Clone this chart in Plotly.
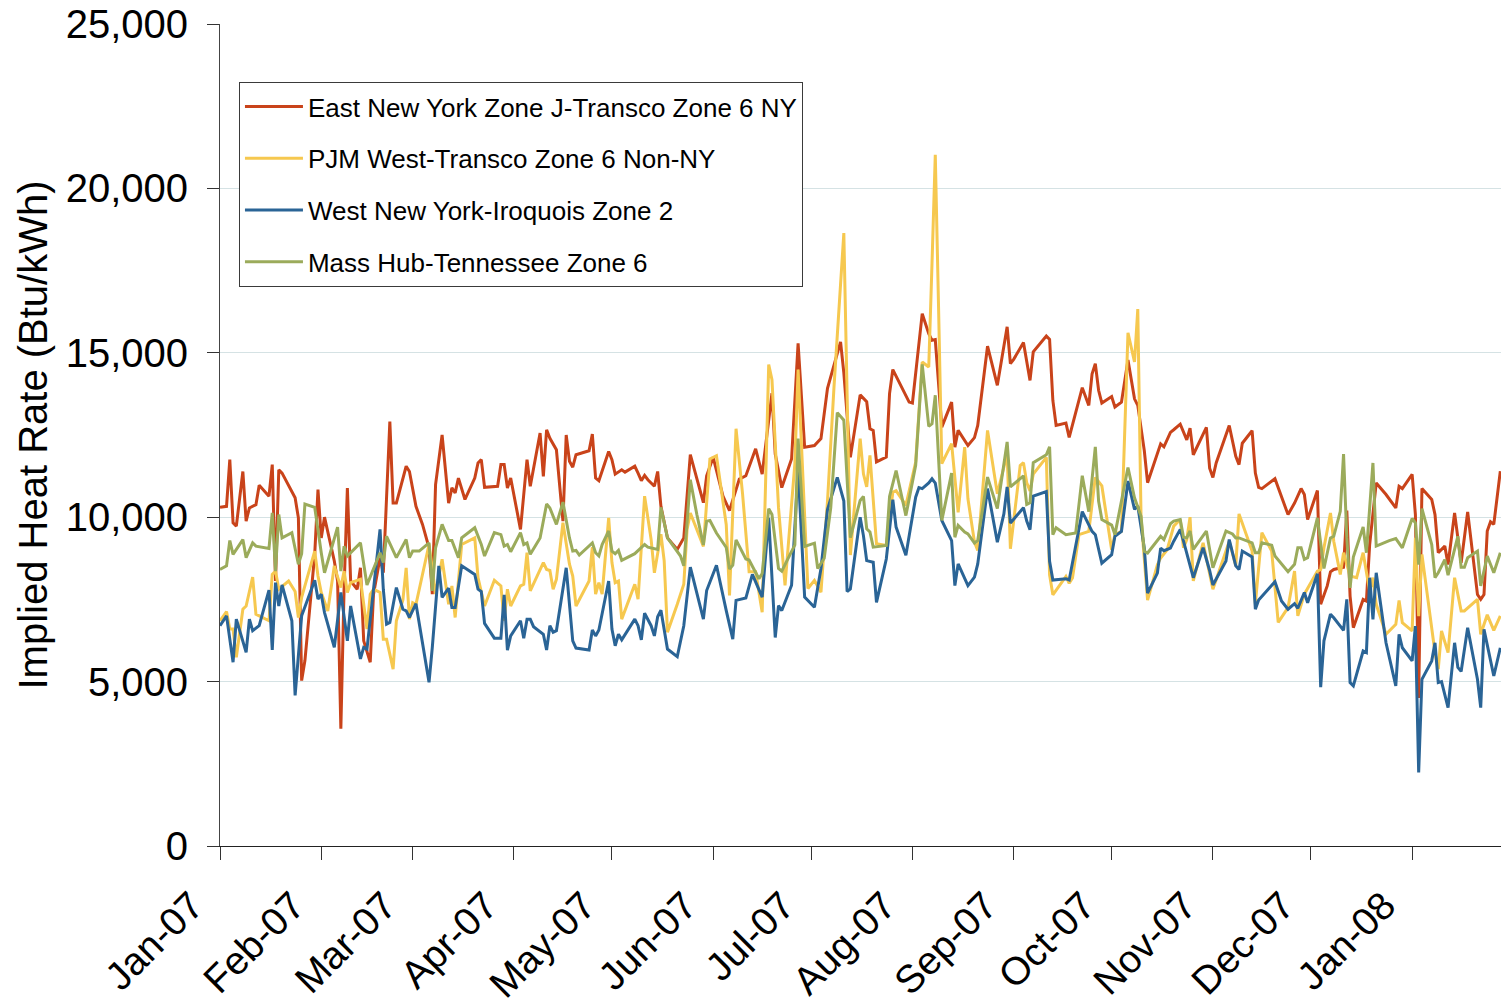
import pandas as pd
import plotly.graph_objects as go

START = "2007-01-01"
X_END = "2008-01-28 05:00"

month_ticks = ["2007-01-01", "2007-02-01", "2007-03-01", "2007-04-01", "2007-05-01",
               "2007-06-01", "2007-07-01", "2007-08-01", "2007-09-01", "2007-10-01",
               "2007-11-01", "2007-12-01", "2008-01-01"]
month_labels = ["Jan-07", "Feb-07", "Mar-07", "Apr-07", "May-07", "Jun-07", "Jul-07",
                "Aug-07", "Sep-07", "Oct-07", "Nov-07", "Dec-07", "Jan-08"]
y_ticks = [0, 5000, 10000, 15000, 20000, 25000]

series_names = ["East New York Zone J-Transco Zone 6 NY",
                "PJM West-Transco Zone 6 Non-NY",
                "West New York-Iroquois Zone 2",
                "Mass Hub-Tennessee Zone 6"]
series_colors = ["#C9431A", "#F6C84F", "#2A6496", "#9BAB5B"]

# day offsets from 1 Jan 2007 and implied heat rates (Btu/kWh)
east_ny_day = [0, 2, 3, 4, 5, 7, 8, 9, 11, 12,
               15, 16, 17, 18, 19, 23, 24, 25, 26, 28,
               29, 30, 31, 32, 35, 36, 37, 38, 39, 40,
               42, 43, 44, 46, 47, 49, 50, 52, 53, 54,
               57, 58, 60, 62, 64, 65, 66, 68, 70, 71,
               72, 73, 75, 78, 79, 80, 81, 85, 86, 87,
               88, 89, 92, 94, 95, 98, 99, 100, 101, 103,
               105, 106, 107, 108, 109, 113, 114, 115, 116, 119,
               120, 121, 123, 124, 127, 128, 129, 130, 131, 133,
               134, 135, 137, 140, 142, 144, 148, 149, 151, 154,
               156, 159, 161, 164, 166, 169, 170, 172, 175, 177,
               179, 182, 184, 186, 190, 191, 193, 196, 198, 199,
               200, 201, 204, 205, 206, 211, 212, 215, 217, 218,
               219, 221, 224, 225, 226, 229, 231, 232, 235, 238,
               241, 242, 243, 246, 248, 249, 253, 254, 255, 256,
               259, 260, 264, 266, 267, 268, 269, 270, 273, 274,
               276, 278, 280, 281, 283, 284, 288, 289, 291, 292,
               294, 296, 297, 298, 302, 303, 304, 305, 309, 311,
               312, 313, 316, 317, 318, 319, 323, 327, 329, 331,
               332, 333, 336, 337, 339, 340, 341, 344, 345, 346,
               347, 350, 351, 352, 354, 357, 360, 361, 362, 365,
               366, 367, 368, 371, 372, 373, 375, 376, 378, 379,
               380, 382, 385, 386, 387, 388, 389, 390, 392]
east_ny_val = [10300, 10330, 11750, 9830, 9730, 11390, 9880, 10280, 10380, 10970,
               10640, 11600, 8060, 11440, 11340, 10590, 9980, 5030, 5640, 7660,
               8870, 10840, 9370, 10000, 8670, 8060, 3570, 7860, 10890, 8060,
               7810, 8460, 6240, 5590, 7660, 8770, 8310, 12910, 10430, 10430,
               11550, 11390, 10330, 9780, 9070, 7660, 10990, 12500, 10430, 10890,
               10740, 11190, 10540, 11190, 11650, 11750, 10910, 10940, 11600, 11600,
               10890, 11190, 9630, 11750, 10940, 12560, 11240, 12660, 12400, 12050,
               9880, 12500, 11700, 11520, 11900, 12020, 12530, 11190, 11110, 12000,
               11750, 11310, 11440, 11370, 11550, 11340, 11110, 11270, 11140, 10940,
               11390, 10330, 9370, 9020, 9370, 11900, 10440, 11260, 11820, 10640,
               10200, 11160, 11260, 12080, 11310, 13770, 11920, 10900, 11770, 15290,
               12130, 12180, 12390, 13920, 15330, 14390, 11820, 13720, 13510, 12690,
               12640, 11680, 11830, 13760, 14490, 13500, 13470, 16190, 15580, 15380,
               15400, 12740, 13500, 12130, 12640, 12180, 12420, 12790, 15200, 14010,
               15790, 14670, 14800, 15310, 14160, 15030, 15510, 15410, 13550, 12790,
               12860, 12430, 13940, 13400, 14350, 14670, 13860, 13470, 13670, 13350,
               13500, 14780, 13600, 13400, 12020, 11050, 12230, 12140, 12580, 12660,
               12830, 12350, 12710, 11900, 12730, 11490, 11210, 11650, 12790, 11850,
               11600, 12250, 12630, 11340, 10910, 10870, 11170, 10080, 10430, 10870,
               10690, 9930, 10810, 7350, 7910, 8340, 8410, 8480, 10200, 7600,
               6640, 7500, 7450, 9170, 11040, 10690, 10280, 10940, 10870, 11300,
               10080, 4500, 10870, 10540, 10080, 8920, 9120, 8560, 10130, 9370,
               8610, 10160, 7650, 7500, 7650, 9580, 9860, 9780, 11400]

pjm_day = [0, 2, 3, 4, 5, 7, 8, 10, 11, 15,
           16, 17, 18, 21, 23, 24, 25, 29, 30, 31,
           33, 35, 37, 38, 39, 40, 43, 45, 46, 47,
           49, 50, 51, 53, 54, 56, 57, 58, 59, 60,
           64, 65, 66, 68, 70, 71, 72, 74, 78, 79,
           81, 84, 86, 87, 88, 89, 92, 93, 94, 95,
           99, 100, 101, 102, 103, 105, 107, 108, 109, 113,
           114, 115, 116, 117, 119, 120, 121, 122, 123, 127,
           128, 130, 132, 133, 135, 136, 137, 140, 142, 143,
           144, 147, 148, 150, 152, 155, 156, 158, 160, 162,
           164, 166, 168, 169, 171, 173, 176, 177, 180, 182,
           184, 186, 188, 191, 193, 196, 197, 198, 199, 201,
           204, 206, 207, 210, 213, 215, 217, 218, 219, 220,
           221, 224, 226, 228, 229, 231, 232, 235, 238, 241,
           242, 245, 246, 247, 248, 249, 253, 254, 255, 259,
           260, 261, 263, 266, 268, 270, 273, 274, 276, 278,
           280, 281, 282, 284, 287, 288, 290, 292, 294, 295,
           296, 297, 298, 301, 304, 308, 309, 311, 312, 316,
           317, 319, 322, 324, 327, 329, 330, 332, 336, 337,
           338, 340, 341, 343, 344, 346, 348, 350, 352, 353,
           354, 357, 360, 361, 362, 365, 366, 367, 368, 372,
           373, 374, 376, 378, 380, 381, 385, 386, 388, 390,
           392]
pjm_val = [6850, 7130, 6600, 6600, 5740, 7200, 7300, 8180, 7050, 6850,
           8260, 8360, 7810, 8060, 7740, 6950, 7560, 8970, 8210, 7710,
           7150, 8520, 7860, 8360, 7710, 8010, 8110, 6600, 7660, 7810,
           7710, 6290, 6290, 5380, 6850, 7480, 8460, 6900, 7400, 7350,
           9170, 8460, 7660, 8720, 7350, 7910, 6950, 9170, 9370, 8160,
           7300, 8080, 7910, 6850, 7810, 7300, 7910, 7960, 8920, 7760,
           8620, 8410, 8380, 7810, 8110, 9830, 8570, 8210, 7300, 8060,
           9090, 7660, 8010, 7660, 9980, 8620, 8010, 8060, 6900, 7960,
           7510, 10640, 9320, 8310, 9480, 8670, 6500, 7350, 7960, 9630,
           10130, 9370, 9110, 11770, 11870, 9770, 7620, 12690, 10700, 8340,
           8340, 7110, 14640, 14180, 10290, 7930, 11620, 14490, 7830, 8080,
           7720, 10490, 13980, 18640, 8850, 12390, 11320, 10920, 11880, 9190,
           9140, 10760, 10810, 10360, 11680, 14720, 14570, 17720, 21020, 16400,
           11630, 12240, 10150, 12130, 10560, 9240, 8990, 12640, 10710, 11930,
           9040, 11570, 11660, 11050, 10800, 11310, 11820, 8250, 7640, 8200,
           7990, 8150, 9470, 9570, 11210, 10950, 9010, 9470, 9570, 15610,
           14720, 16330, 9980, 7480, 8550, 8760, 9010, 9730, 9930, 9070,
           9320, 10000, 8060, 9220, 7810, 8970, 9270, 8520, 10100, 8970,
           7370, 9530, 8970, 6800, 7250, 8360, 7000, 7660, 8360, 8410,
           9070, 10130, 9270, 8260, 8920, 8210, 8160, 8920, 7750, 8160,
           7350, 6440, 6740, 7470, 6790, 6540, 9370, 6990, 8870, 5880,
           5380, 6540, 5880, 8160, 7150, 7150, 7500, 6440, 7030, 6560,
           7000]

west_ny_day = [0, 2, 4, 5, 8, 9, 10, 12, 15, 16,
               17, 18, 19, 22, 23, 25, 29, 30, 31, 32,
               35, 37, 39, 40, 43, 44, 45, 49, 50, 51,
               52, 54, 56, 57, 58, 60, 64, 65, 67, 68,
               70, 71, 72, 74, 78, 79, 80, 81, 84, 86,
               87, 88, 89, 92, 93, 94, 95, 96, 99, 100,
               101, 102, 103, 106, 108, 109, 113, 114, 115, 116,
               119, 120, 121, 122, 123, 127, 128, 129, 130, 132,
               133, 134, 135, 137, 140, 142, 144, 148, 149, 152,
               155, 157, 158, 161, 163, 166, 168, 170, 171, 172,
               175, 177, 179, 182, 184, 186, 189, 191, 192, 193,
               196, 197, 198, 200, 201, 204, 206, 207, 210, 211,
               213, 214, 215, 217, 218, 219, 221, 224, 225, 226,
               229, 231, 232, 235, 238, 240, 241, 242, 243, 246,
               247, 248, 249, 253, 254, 255, 259, 260, 264, 267,
               268, 270, 273, 274, 276, 278, 280, 281, 283, 284,
               287, 288, 289, 291, 292, 294, 295, 296, 298, 301,
               303, 304, 308, 309, 311, 312, 313, 316, 317, 318,
               323, 325, 327, 329, 330, 332, 333, 336, 337, 338,
               340, 341, 344, 345, 346, 347, 350, 351, 352, 353,
               354, 357, 360, 361, 362, 365, 366, 367, 368, 371,
               372, 373, 374, 376, 378, 379, 380, 382, 385, 386,
               387, 390, 392]
west_ny_val = [6700, 7000, 5590, 6900, 5890, 6900, 6550, 6700, 7780, 5960,
               8010, 7300, 7940, 6850, 4580, 7000, 8080, 7510, 7660, 7100,
               6040, 7710, 6240, 7300, 5690, 6040, 5990, 9630, 7810, 6750,
               6800, 7860, 7200, 7150, 6950, 7370, 4980, 6040, 8520, 7560,
               7840, 7250, 7250, 8520, 8260, 7810, 7740, 6770, 6320, 6320,
               7640, 5960, 6390, 6850, 6320, 6900, 6900, 6670, 6440, 5960,
               6700, 6500, 6550, 8460, 6240, 6020, 5960, 6570, 6390, 6570,
               8060, 6600, 6090, 6440, 6270, 6900, 6700, 6270, 7080, 6700,
               6390, 6970, 7170, 5990, 5760, 6700, 8480, 6900, 7770, 8540,
               7160, 6290, 7470, 7540, 8260, 7570, 9980, 6340, 7310, 7160,
               7930, 11460, 7570, 7260, 8440, 10230, 11210, 10490, 7740, 7820,
               10000, 9440, 8680, 8630, 7410, 8730, 10530, 9700, 8840, 9390,
               10610, 10900, 10870, 11040, 11170, 11040, 9900, 9290, 7920, 8580,
               7920, 8180, 8580, 10870, 9240, 10100, 10920, 9820, 9930, 10290,
               9880, 9620, 10640, 10780, 8660, 8090, 8130, 8090, 10170, 9570,
               9470, 8600, 8860, 9420, 9570, 11100, 10240, 10340, 9060, 7690,
               8300, 9060, 8980, 9060, 9270, 9630, 9270, 8920, 8160, 9070,
               8380, 7940, 8670, 9320, 8520, 8410, 8970, 8790, 7200, 7480,
               8040, 7450, 7200, 7370, 7230, 7710, 7400, 8280, 4830, 6240,
               7050, 6940, 6560, 7500, 4970, 4870, 5930, 5880, 8160, 6890,
               8310, 6180, 4870, 6440, 6030, 5630, 6690, 2240, 5070, 5630,
               6180, 4970, 5000, 4210, 6180, 5430, 5310, 6640, 5070, 4210,
               6590, 5170, 6030]

mass_hub_day = [0, 2, 3, 4, 7, 8, 10, 11, 15, 16,
                17, 18, 19, 22, 24, 25, 26, 29, 31, 32,
                36, 37, 38, 39, 43, 45, 49, 50, 51, 54,
                57, 58, 59, 61, 64, 65, 66, 68, 70, 71,
                73, 74, 78, 80, 81, 84, 86, 87, 88, 89,
                92, 93, 94, 95, 98, 100, 101, 103, 105, 107,
                108, 109, 110, 114, 115, 116, 117, 119, 120, 121,
                122, 123, 127, 130, 131, 134, 135, 137, 141, 142,
                144, 146, 148, 149, 150, 152, 155, 156, 157, 158,
                161, 162, 165, 166, 168, 169, 171, 172, 176, 177,
                179, 182, 183, 185, 187, 189, 191, 193, 196, 197,
                198, 199, 200, 204, 205, 207, 210, 213, 215, 217,
                218, 219, 221, 224, 225, 226, 228, 229, 231, 232,
                235, 238, 241, 242, 246, 247, 248, 249, 253, 254,
                255, 256, 259, 262, 264, 266, 268, 269, 270, 273,
                274, 278, 280, 282, 283, 284, 288, 289, 291, 292,
                294, 295, 296, 297, 298, 302, 304, 308, 310, 311,
                312, 316, 317, 318, 319, 322, 323, 327, 329, 330,
                331, 332, 333, 336, 338, 340, 341, 343, 344, 345,
                346, 347, 350, 351, 353, 354, 358, 360, 362, 365,
                366, 367, 368, 371, 372, 373, 375, 376, 379, 380,
                381, 382, 385, 386, 388, 390, 392]
mass_hub_val = [8410, 8520, 9290, 8870, 9320, 8770, 9220, 9120, 9050, 10130,
                8360, 10080, 9370, 9530, 8570, 8890, 10400, 10300, 8920, 8310,
                9700, 8360, 9120, 8820, 9220, 7940, 8920, 8620, 9420, 8770,
                9320, 8770, 8970, 8970, 9220, 7760, 9070, 9780, 9290, 9290,
                8770, 9370, 9680, 9170, 8820, 9530, 9470, 9120, 9170, 8950,
                9530, 9170, 9220, 8870, 9370, 10400, 10280, 9780, 10460, 9370,
                8970, 8990, 8850, 9220, 8920, 8820, 9170, 9580, 8970, 8890,
                8990, 8690, 8890, 9170, 9090, 9020, 10300, 9370, 8820, 8520,
                11140, 10080, 9160, 9880, 9900, 9520, 9080, 8420, 8540, 9310,
                8730, 8700, 8130, 8290, 10260, 10080, 8440, 8360, 9160, 12390,
                9110, 9210, 8440, 8750, 10290, 13180, 12950, 9380, 10510, 10630,
                9650, 9550, 9090, 9140, 10630, 11420, 10050, 11580, 14650, 12760,
                12840, 13710, 9900, 11340, 9390, 9750, 9550, 9490, 9210, 9290,
                11220, 10260, 12290, 10920, 11260, 10390, 10440, 11660, 11900, 12140,
                9470, 9680, 9470, 9520, 11260, 10170, 12140, 10490, 9930, 9760,
                9470, 11510, 10590, 10030, 8960, 8910, 9420, 9320, 9800, 9880,
                9930, 9390, 9370, 9580, 9020, 9580, 8460, 9580, 9490, 9370,
                9370, 9220, 8920, 8920, 9220, 9150, 8820, 8340, 8570, 9070,
                9070, 8720, 8770, 9980, 8440, 9370, 9420, 10180, 11920, 9370,
                7850, 8790, 9700, 8920, 11650, 9120, 9290, 9350, 9070, 9960,
                9830, 8560, 10260, 9170, 8160, 8310, 8710, 8240, 9420, 8480,
                8480, 8770, 8970, 7910, 8820, 8310, 8920]

series_days = [east_ny_day, pjm_day, west_ny_day, mass_hub_day]
series_vals = [east_ny_val, pjm_val, west_ny_val, mass_hub_val]


def to_dates(days):
    return pd.Timestamp(START) + pd.to_timedelta(days, unit="D")


FONT = "Arial, 'Liberation Sans', Helvetica, sans-serif"

fig = go.Figure()
for name, color, days, vals in zip(series_names, series_colors, series_days, series_vals):
    fig.add_trace(go.Scatter(
        x=to_dates(days), y=vals, mode="lines", name=name, legendgroup=name,
        line=dict(color=color, width=3),
    ))

fig.update_layout(
    width=1501, height=1008,
    margin=dict(l=220, r=0, t=24, b=162, pad=0, autoexpand=False),
    paper_bgcolor="white", plot_bgcolor="white",
    font=dict(family=FONT, color="black"),
    showlegend=True,
    legend=dict(
        x=0.0148, y=0.9294, xanchor="left", yanchor="top",
        bgcolor="white", bordercolor="#3a3a3a", borderwidth=1,
        font=dict(size=26, family=FONT, color="black"),
        traceorder="grouped", tracegroupgap=15, itemwidth=58,
    ),
    xaxis=dict(
        type="date", range=[START, X_END], automargin=False,
        tickmode="array", tickvals=month_ticks, ticktext=month_labels,
        tickangle=-45, ticks="outside", ticklen=13, tickcolor="#333333", tickwidth=1,
        ticklabelshift=-28, ticklabelstandoff=7,
        showline=True, linecolor="#222222", linewidth=1,
        showgrid=False, zeroline=False,
        tickfont=dict(size=39, family=FONT, color="black"),
    ),
    yaxis=dict(
        range=[0, 25000], tickmode="array", tickvals=y_ticks, tickformat=",d",
        automargin=False,
        ticks="outside", ticklen=12, tickcolor="#333333", tickwidth=1,
        ticklabelstandoff=11,
        showline=True, linecolor="#444444", linewidth=1,
        showgrid=True, gridcolor="#D5E2E4", gridwidth=1, zeroline=False,
        tickfont=dict(size=40, family=FONT, color="black"),
        title=dict(text="Implied Heat Rate (Btu/kWh)", standoff=5,
                   font=dict(size=40, family=FONT, color="black")),
    ),
)

fig.write_html(
    "out.html",
    config={"displayModeBar": False},
    post_script="document.body.style.margin='0';document.body.style.overflow='hidden';",
)
